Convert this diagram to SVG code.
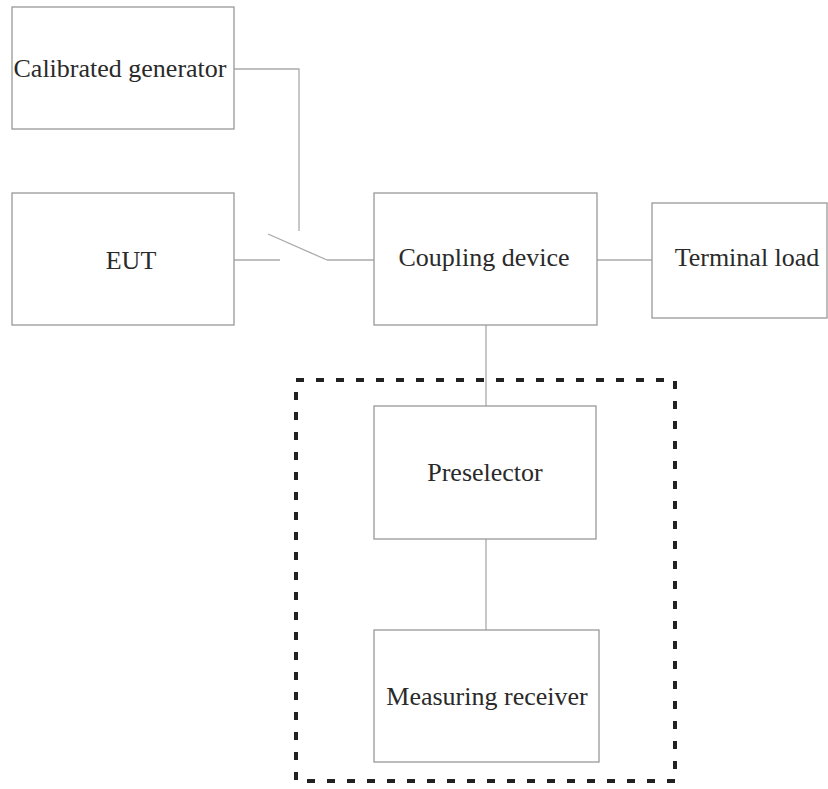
<svg xmlns="http://www.w3.org/2000/svg" width="828" height="789" viewBox="0 0 828 789">
<style>
.box{fill:#fff;stroke:#999;stroke-width:1.3}
.lbl{font-family:"Liberation Serif","Times New Roman",serif;font-size:26px;fill:#2a2a2a;text-anchor:middle}
.wire{fill:none;stroke:#aaa;stroke-width:1.3}
.dash{fill:none;stroke:#222;stroke-width:4;stroke-dasharray:8 12}
</style>
<rect width="828" height="789" fill="#fff"/>
<g id="connectors">
<polyline class="wire" points="234,69 299,69 299,231"/>
<line class="wire" x1="234" y1="260" x2="280" y2="260"/>
<line class="wire" x1="268" y1="234" x2="327" y2="260"/>
<line class="wire" x1="327" y1="260" x2="374" y2="260"/>
<line class="wire" x1="597" y1="260" x2="652" y2="260"/>
<line class="wire" x1="486" y1="325" x2="486" y2="406"/>
<line class="wire" x1="486" y1="539" x2="486" y2="630"/>
</g>
<g id="measuring-set">
<rect class="dash" x="296" y="380" width="379" height="401"/>
</g>
<g id="calibrated-generator">
<rect class="box" x="12" y="7" width="222" height="122"/>
<text class="lbl" x="120" y="77">Calibrated generator</text>
</g>
<g id="eut">
<rect class="box" x="12" y="193" width="222" height="132"/>
<text class="lbl" x="131" y="269">EUT</text>
</g>
<g id="coupling-device">
<rect class="box" x="374" y="193" width="223" height="132"/>
<text class="lbl" x="484" y="266">Coupling device</text>
</g>
<g id="terminal-load">
<rect class="box" x="652" y="203" width="175" height="115"/>
<text class="lbl" x="747" y="266">Terminal load</text>
</g>
<g id="preselector">
<rect class="box" x="374" y="406" width="222" height="133"/>
<text class="lbl" x="485" y="481">Preselector</text>
</g>
<g id="measuring-receiver">
<rect class="box" x="374" y="630" width="225" height="132"/>
<text class="lbl" x="487" y="705">Measuring receiver</text>
</g>
</svg>
